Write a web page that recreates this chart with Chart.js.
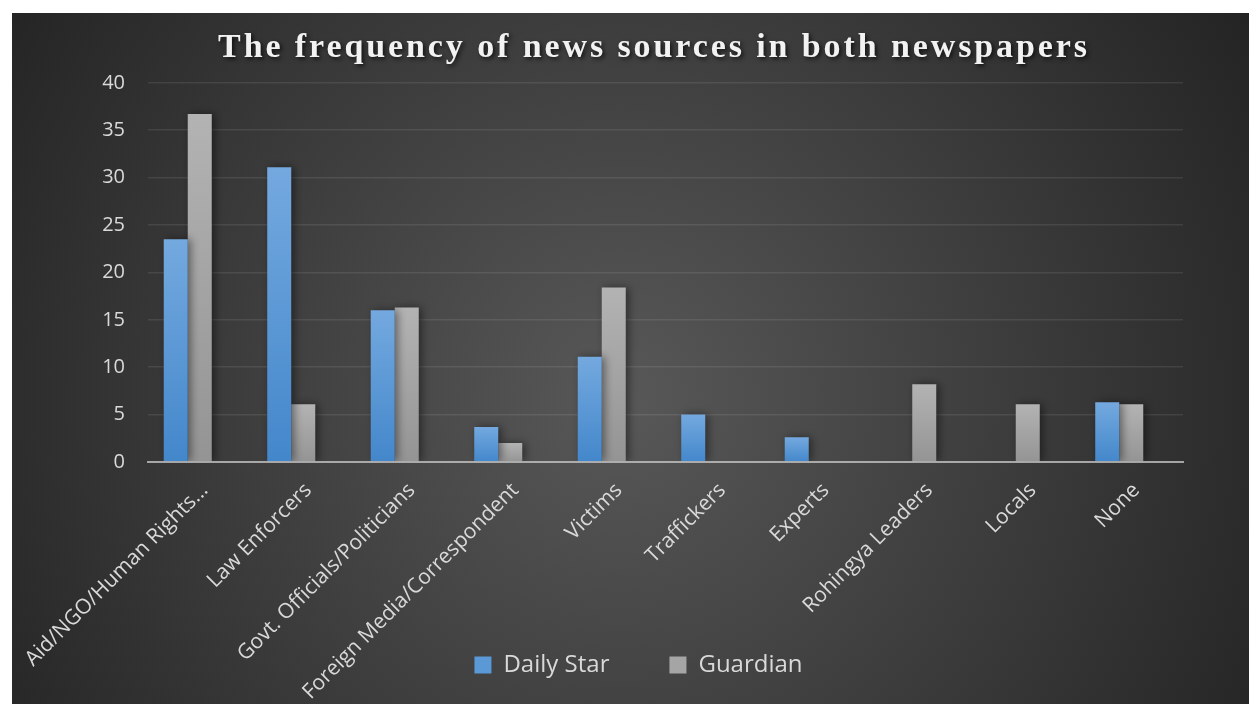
<!DOCTYPE html>
<html>
<head>
<meta charset="utf-8">
<script src="https://cdn.jsdelivr.net/npm/chart.js@4"></script>
<style>
  html, body { margin: 0; padding: 0; background: #fff; }
  #wrap { width: 1249px; height: 704px; }
</style>
</head>
<body>
<div id="wrap"><canvas id="newsSourcesChart" width="1249" height="704"></canvas></div>
<script>
const categories = ['Aid/NGO/Human Rights...', 'Law Enforcers', 'Govt. Officials/Politicians',
  'Foreign Media/Correspondent', 'Victims', 'Traffickers', 'Experts', 'Rohingya Leaders', 'Locals', 'None'];
const dailyStar = [23.5, 31.1, 16.0, 3.7, 11.1, 5.0, 2.6, 0, 0, 6.3];
const guardian = [36.7, 6.1, 16.3, 2.0, 18.4, 0, 0, 8.2, 6.1, 6.1];
// empty third slot: Excel leaves room for it, which pushes the pairs left of the tick
const emptySlot = [null, null, null, null, null, null, null, null, null, null];
const yTicks = [0, 5, 10, 15, 20, 25, 30, 35, 40];

function barGradient(top, bottom) {
  return function (context) {
    const chart = context.chart;
    const y = chart.scales.y;
    if (!y || context.raw == null || context.type !== 'data') return top;
    const y0 = y.getPixelForValue(0);
    const y1 = y.getPixelForValue(context.raw);
    if (!isFinite(y0) || !isFinite(y1) || y0 === y1) return top;
    const g = chart.ctx.createLinearGradient(0, y1, 0, y0);
    g.addColorStop(0, top);
    g.addColorStop(1, bottom);
    return g;
  };
}

const backdrop = {
  id: 'backdrop',
  beforeDraw(chart) {
    const c = chart.ctx;
    c.save();
    c.fillStyle = '#ffffff';
    c.fillRect(0, 0, chart.width, chart.height);
    const g = c.createRadialGradient(620, 400, 0, 620, 400, 760);
    g.addColorStop(0, '#585858');
    g.addColorStop(1, '#222222');
    c.fillStyle = g;
    c.fillRect(12, 13, chart.width - 12, chart.height - 13);
    c.restore();
  },
  afterLayout(chart) {
    // let the slanted labels run past the axis box (they overlap the legend band)
    chart.scales.x.bottom = chart.height;
    const t = chart.titleBlock;
    if (t && !t._spaced) {
      const orig = t.draw.bind(t);
      t.draw = function (area) {
        const c = this.ctx;
        c.save();
        c.letterSpacing = '2.9px';
        c.shadowColor = 'rgba(0,0,0,0.7)';
        c.shadowBlur = 4;
        c.shadowOffsetX = 2;
        c.shadowOffsetY = 2;
        c.translate(15.5, 0);
        orig(area);
        c.restore();
      };
      t._spaced = true;
    }
  },
  beforeDatasetsDraw(chart) {
    const c = chart.ctx;
    c.save();
    c.shadowColor = 'rgba(0,0,0,0.45)';
    c.shadowBlur = 9;
    c.shadowOffsetX = 3;
  },
  afterDatasetsDraw(chart) {
    chart.ctx.restore();
  }
};

new Chart(document.getElementById('newsSourcesChart'), {
  type: 'bar',
  data: {
    labels: categories,
    datasets: [
      { label: 'Daily Star', data: dailyStar, backgroundColor: barGradient('#74a9df', '#4387cb') },
      { label: 'Guardian', data: guardian, backgroundColor: barGradient('#b3b3b3', '#949494') },
      { label: '', data: emptySlot, backgroundColor: 'rgba(0,0,0,0)' }
    ]
  },
  options: {
    responsive: false,
    animation: false,
    devicePixelRatio: 1,
    datasets: { bar: { categoryPercentage: 0.696, barPercentage: 1, borderWidth: 0 } },
    layout: { padding: { left: 94, right: 66, top: 0, bottom: 17 } },
    plugins: {
      title: {
        display: true,
        text: 'The frequency of news sources in both newspapers',
        color: '#f2f2f2',
        font: { family: '"Liberation Serif", "Times New Roman", serif', size: 34, weight: 'bold' },
        padding: { top: 28, bottom: 14 }
      },
      legend: {
        position: 'bottom',
        labels: {
          color: '#d9d9d9',
          font: { family: '"Open Sans", sans-serif', size: 24 },
          boxWidth: 17,
          boxHeight: 17,
          padding: 60,
          filter: (item) => item.datasetIndex < 2,
          generateLabels(chart) {
            const fills = ['#5a98d6', '#a5a5a5'];
            return chart.data.datasets.map((ds, i) => ({
              text: ds.label, fillStyle: fills[i] || 'rgba(0,0,0,0)', strokeStyle: 'rgba(0,0,0,0)',
              lineWidth: 0, fontColor: '#d9d9d9', datasetIndex: i, hidden: false
            }));
          }
        }
      },
      tooltip: { enabled: false }
    },
    scales: {
      x: {
        grid: { display: false },
        border: { display: true, color: 'rgba(200,200,200,0.75)', width: 2, z: 1 },
        ticks: {
          color: '#d9d9d9',
          font: { family: '"Open Sans", sans-serif', size: 21 },
          minRotation: 45, maxRotation: 45, autoSkip: false, padding: 8, labelOffset: 5
        },
        afterFit(scale) { scale.height = 131; }
      },
      y: {
        min: 0, max: 40,
        grid: { color: 'rgba(255,255,255,0.09)', lineWidth: 1.6, drawTicks: false },
        border: { display: false },
        afterBuildTicks(scale) { scale.ticks = yTicks.map(v => ({ value: v })); },
        ticks: {
          color: '#d9d9d9',
          font: { family: '"Open Sans", sans-serif', size: 20 },
          padding: 23
        },
        afterFit(scale) { scale.width = 54; }
      }
    }
  },
  plugins: [backdrop]
});
</script>
</body>
</html>
